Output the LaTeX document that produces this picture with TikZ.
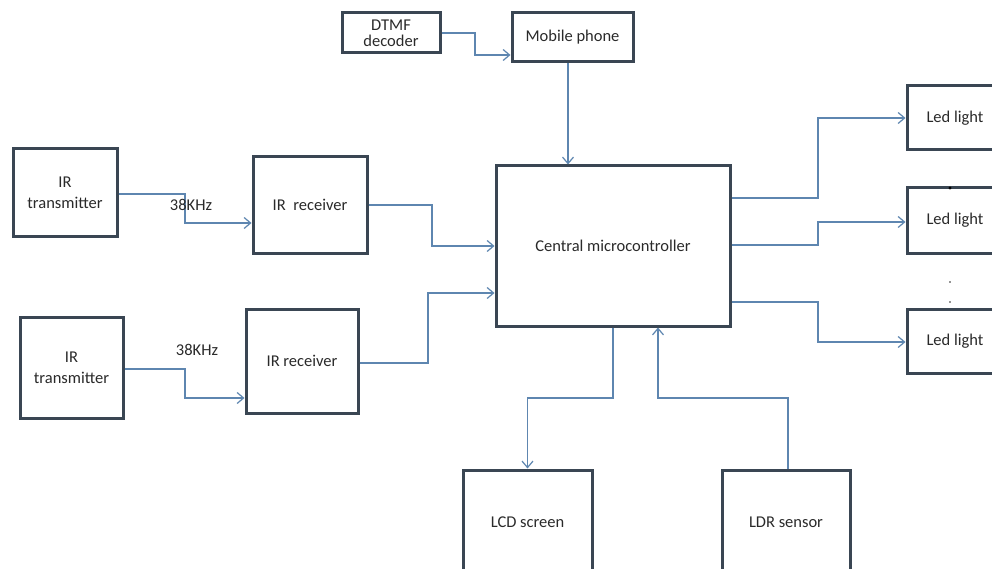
\documentclass[tikz,border=0pt]{standalone}
\usepackage{fontspec}
\setmainfont{Carlito}
\usetikzlibrary{arrows.meta}
\definecolor{boxline}{HTML}{3A4653}
\definecolor{wire}{HTML}{5E86B0}
\definecolor{ink}{HTML}{2A2A2A}
\tikzset{
  block/.style={draw=boxline, line width=3pt, fill=white, text=ink,
    align=center, inner sep=0pt, font=\fontsize{16.5}{19}\selectfont},
  wire/.style={draw=wire, line width=1.4pt,
    -{Straight Barb[length=6.5pt,width=11pt,line width=1.2pt]}},
  freq/.style={text=ink, font=\fontsize{16.5}{19}\selectfont, inner sep=0pt}
}
\begin{document}
\begin{tikzpicture}[x=1pt,y=-1pt]
\useasboundingbox (0,0) rectangle (992,569);
\clip (0,0) rectangle (992,569);
\fill[white] (0,0) rectangle (992,569);

% blocks
\node[block, minimum width=98pt, minimum height=40pt] (dtmf) at (391,33) {DTMF\\[-3pt]decoder};
\node[block, minimum width=121pt, minimum height=49pt] (mobile) at (572.5,37.5) {Mobile phone};
\node[block, minimum width=234pt, minimum height=160pt] (mcu) at (613,246) {Central microcontroller};
\node[block, minimum width=104pt, minimum height=88pt] (tx1) at (65,193) {IR\\[2pt]transmitter};
\node[block, minimum width=114pt, minimum height=96pt] (rx1) at (310,205) {IR~~receiver};
\node[block, minimum width=103pt, minimum height=101pt] (tx2) at (71.5,367.5) {IR\\[2pt]transmitter};
\node[block, minimum width=112pt, minimum height=104pt] (rx2) at (302,361) {IR receiver};
\node[block, minimum width=96pt, minimum height=64pt] (led1) at (955,118) {Led light};
\node[block, minimum width=96pt, minimum height=65pt] (led2) at (955,220.5) {Led light};
\node[block, minimum width=96pt, minimum height=64pt] (led3) at (955,341) {Led light};
\node[block, minimum width=129pt, minimum height=104pt] (lcd) at (527.5,522) {LCD screen};
\node[block, minimum width=128pt, minimum height=104pt] (ldr) at (786,522) {LDR sensor};

% dots between the LED blocks
\fill[black] (950,188) circle (1.6pt);
\fill[ink] (950,282) circle (0.9pt);
\fill[ink] (950,302) circle (0.9pt);

% connectors
\draw[wire] (dtmf.east) -- (475,33) |- (mobile.west |- 0,55);
\draw[wire] (mobile.south -| 568,0) -- (mcu.north -| 568,0);

\draw[wire] (tx1.east |- 0,194) -- (185,194) |- (rx1.west |- 0,223);
\draw[wire] (rx1.east) -- (432,205) |- (mcu.west |- 0,246);
\draw[wire] (tx2.east |- 0,369) -- (185,369) |- (rx2.west |- 0,398);
\draw[wire] (rx2.east |- 0,363) -- (428,363) |- (mcu.west |- 0,293);

\draw[wire] (mcu.east |- 0,198) -- (818,198) |- (led1.west);
\draw[wire] (mcu.east |- 0,245) -- (818,245) |- (led2.west |- 0,222);
\draw[wire] (mcu.east |- 0,302) -- (818,302) |- (led3.west |- 0,342);

\draw[wire] (mcu.south -| 613,0) -- (613,398) -| (lcd.north);
\draw[wire] (ldr.north -| 788,0) -- (788,398) -| (mcu.south -| 658,0);

% carrier frequency labels
\node[freq] (f1) at (191,205) {38KHz};
\node[freq] (f2) at (197,350) {38KHz};
\end{tikzpicture}
\end{document}
